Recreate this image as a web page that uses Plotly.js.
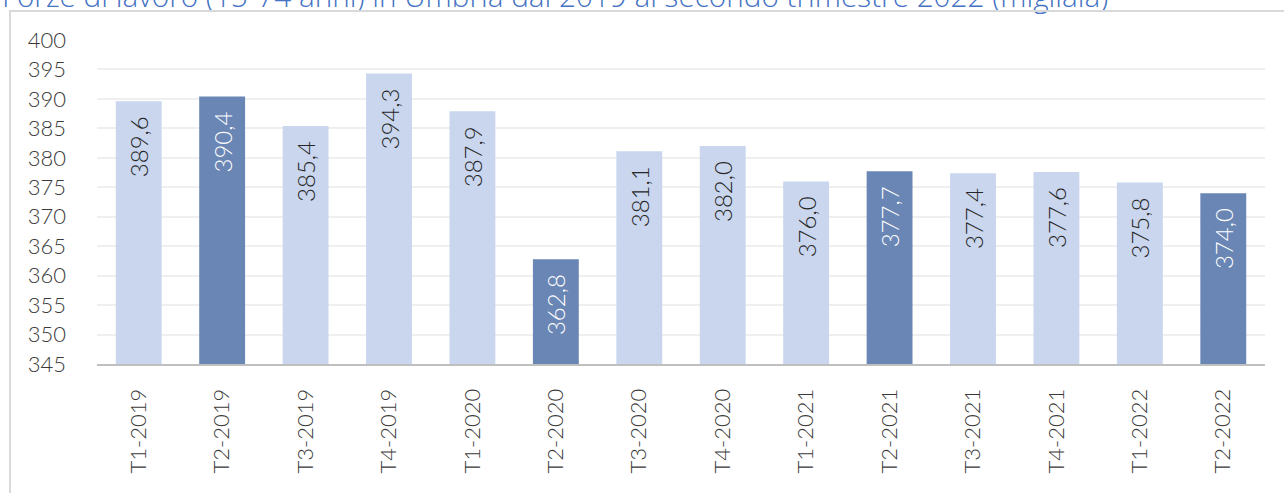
<!DOCTYPE html>
<html>
<head>
<meta charset="utf-8">
<script src="https://cdn.plot.ly/plotly-3.0.1.min.js"></script>
<style>
  html, body { margin: 0; padding: 0; background: #fff; overflow: hidden; }
  #chart { width: 1284px; height: 493px; position: relative; }
  #frame { position: absolute; left: 9px; top: 10px; width: 2000px; height: 2000px;
           border-left: 2px solid #D9D9D9; border-top: 2px solid #D9D9D9; pointer-events: none; }
</style>
</head>
<body>
<div id="chart"></div>
<div id="frame"></div>
<script>
const categories = ["T1-2019","T2-2019","T3-2019","T4-2019","T1-2020","T2-2020","T3-2020","T4-2020","T1-2021","T2-2021","T3-2021","T4-2021","T1-2022","T2-2022"];
const values = [389.6, 390.4, 385.4, 394.3, 387.9, 362.8, 381.1, 382.0, 376.0, 377.7, 377.4, 377.6, 375.8, 374.0];
const highlighted = ["T2-2019","T2-2020","T2-2021","T2-2022"];
const titleText = "Forze di lavoro (15-74 anni) in Umbria dal 2019 al secondo trimestre 2022 (migliaia)";

const LIGHT = "#C9D6EE";
const DARK = "#6A86B5";
const barColors = categories.map(c => highlighted.includes(c) ? DARK : LIGHT);
const textColors = categories.map(c => highlighted.includes(c) ? "#FFFFFF" : "#262626");

const FONT = "Lato, 'Open Sans', sans-serif";
// en-space padding after the label keeps it slightly below the bar top (text reads bottom-to-top)
const labels = values.map(v => v.toFixed(1).replace(".", ",") + "\u2002");

const trace = {
  type: "bar",
  x: categories,
  y: values,
  marker: { color: barColors, line: { width: 0 } },
  text: labels,
  texttemplate: "%{text}",
  textposition: "inside",
  insidetextanchor: "end",
  textangle: -90,
  constraintext: "none",
  textfont: { family: FONT, size: 24, color: textColors, weight: 300 },
  hoverinfo: "none",
  cliponaxis: true
};

const layout = {
  width: 1284,
  height: 493,
  margin: { l: 97, r: 19, t: 40, b: 129 },
  paper_bgcolor: "rgba(0,0,0,0)",
  plot_bgcolor: "rgba(0,0,0,0)",
  bargap: 0.45,
  separators: ",.",
  showlegend: false,
  annotations: [{
    text: titleText,
    xref: "paper", x: 0, xanchor: "left", xshift: -97,
    yref: "paper", y: 1, yanchor: "middle", yshift: 45,
    showarrow: false,
    font: { family: "'Open Sans', sans-serif", size: 29.7, color: "#4472C4", weight: 300 }
  }],
  xaxis: {
    type: "category",
    tickangle: -90,
    tickfont: { family: FONT, size: 22, color: "#3A3A3A", weight: 300 },
    showgrid: false,
    showline: true,
    linecolor: "#BFBFBF",
    linewidth: 2,
    ticks: "",
    ticklabelstandoff: 14
  },
  yaxis: {
    range: [345, 400],
    tickvals: [345,350,355,360,365,370,375,380,385,390,395,400],
    tickfont: { family: FONT, size: 22, color: "#3A3A3A", weight: 300 },
    showgrid: true,
    gridcolor: "#EFEFEF",
    gridwidth: 2,
    zeroline: false,
    showline: false,
    ticks: "",
    ticklabelstandoff: 30
  }
};

Plotly.newPlot("chart", [trace], layout, { staticPlot: true, displayModeBar: false });
</script>
</body>
</html>
